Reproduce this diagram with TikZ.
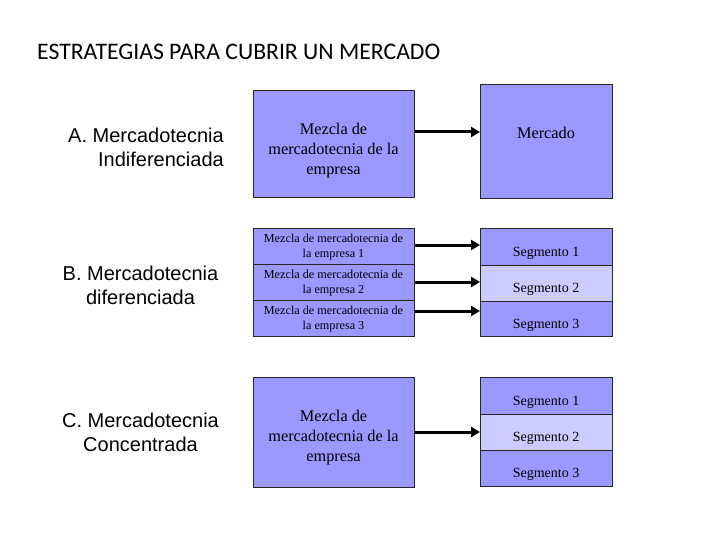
\documentclass[tikz,border=0pt]{standalone}
\usepackage{fontspec}
\setmainfont{Liberation Serif}
\newfontfamily\arialf{Liberation Sans}
\newfontfamily\titlef{Carlito}
\usetikzlibrary{arrows.meta}
\definecolor{boxblue}{HTML}{9999FF}
\definecolor{boxlight}{HTML}{CCCCFF}
\tikzset{
  box/.style={draw=black!85, line width=0.8pt, fill=boxblue, inner sep=0pt, anchor=north west},
  lightbox/.style={box, fill=boxlight},
  bigtxt/.style={font=\fontsize{16.3}{20}\selectfont, align=center, inner sep=0pt},
  smalltxt/.style={font=\fontsize{12.2}{14.5}\selectfont, align=center, inner sep=0pt},
  segtxt/.style={font=\fontsize{14}{16}\selectfont, inner sep=0pt},
  sidetxt/.style={font=\arialf\fontsize{20}{24.5}\selectfont, inner sep=0pt},
  arr/.style={line width=3pt, -{Triangle[length=9pt,width=10pt]}},
}
\begin{document}
\begin{tikzpicture}[x=1pt,y=-1pt]
\useasboundingbox (0,0) rectangle (720,540);
\node[font=\titlef\fontsize{23.7}{26}\selectfont, anchor=base west, inner sep=0pt] (title) at (37,60) {ESTRATEGIAS PARA CUBRIR UN MERCADO};

% A
\node[sidetxt, align=right, anchor=east] (la) at (224,147.5) {A. Mercadotecnia\\Indiferenciada};
\node[box, minimum width=161pt, minimum height=107pt] (m1) at (253,90) {};
\node[bigtxt] (m1t) at (333.5,151) {Mezcla de\\mercadotecnia de la\\empresa};
\node[box, minimum width=132pt, minimum height=114pt] (mk) at (480,84) {};
\node[bigtxt] (mkt) at (546,133) {Mercado};
\draw[arr] (m1.east |- 0,132) -- (mk.west |- 0,132);

% B
\node[sidetxt, align=center] (lb) at (140.5,285.5) {B. Mercadotecnia\\diferenciada};
\node[box, minimum width=161pt, minimum height=36pt] (b1) at (253,228) {};
\node[box, minimum width=161pt, minimum height=36pt] (b2) at (253,264) {};
\node[box, minimum width=161pt, minimum height=36pt] (b3) at (253,300) {};
\node[smalltxt] (b1t) at (333.5,247) {Mezcla de mercadotecnia de\\la empresa 1};
\node[smalltxt] (b2t) at (333.5,283) {Mezcla de mercadotecnia de\\la empresa 2};
\node[smalltxt] (b3t) at (333.5,319) {Mezcla de mercadotecnia de\\la empresa 3};
\node[box, minimum width=132pt, minimum height=37pt] (s1) at (480,228) {};
\node[lightbox, minimum width=132pt, minimum height=36pt] (s2) at (480,265) {};
\node[box, minimum width=132pt, minimum height=35pt] (s3) at (480,301) {};
\node[segtxt] (s1t) at (546,253) {Segmento 1};
\node[segtxt] (s2t) at (546,289.5) {Segmento 2};
\node[segtxt] (s3t) at (546,325.5) {Segmento 3};
\draw[arr] (b1.east |- 0,245) -- (s1.west |- 0,245);
\draw[arr] (b2.east |- 0,282) -- (s2.west |- 0,282);
\draw[arr] (b3.east |- 0,311) -- (s3.west |- 0,311);

% C
\node[sidetxt, align=center] (lc) at (140.5,432.5) {C. Mercadotecnia\\Concentrada};
\node[box, minimum width=161pt, minimum height=110pt] (c1) at (253,377) {};
\node[bigtxt] (c1t) at (333.5,438) {Mezcla de\\mercadotecnia de la\\empresa};
\node[box, minimum width=132pt, minimum height=37pt] (t1) at (480,377) {};
\node[lightbox, minimum width=132pt, minimum height=36pt] (t2) at (480,414) {};
\node[box, minimum width=132pt, minimum height=36pt] (t3) at (480,450) {};
\node[segtxt] (t1t) at (546,402) {Segmento 1};
\node[segtxt] (t2t) at (546,438.5) {Segmento 2};
\node[segtxt] (t3t) at (546,474) {Segmento 3};
\draw[arr] (c1.east |- 0,432) -- (t2.west |- 0,432);
\end{tikzpicture}
\end{document}
